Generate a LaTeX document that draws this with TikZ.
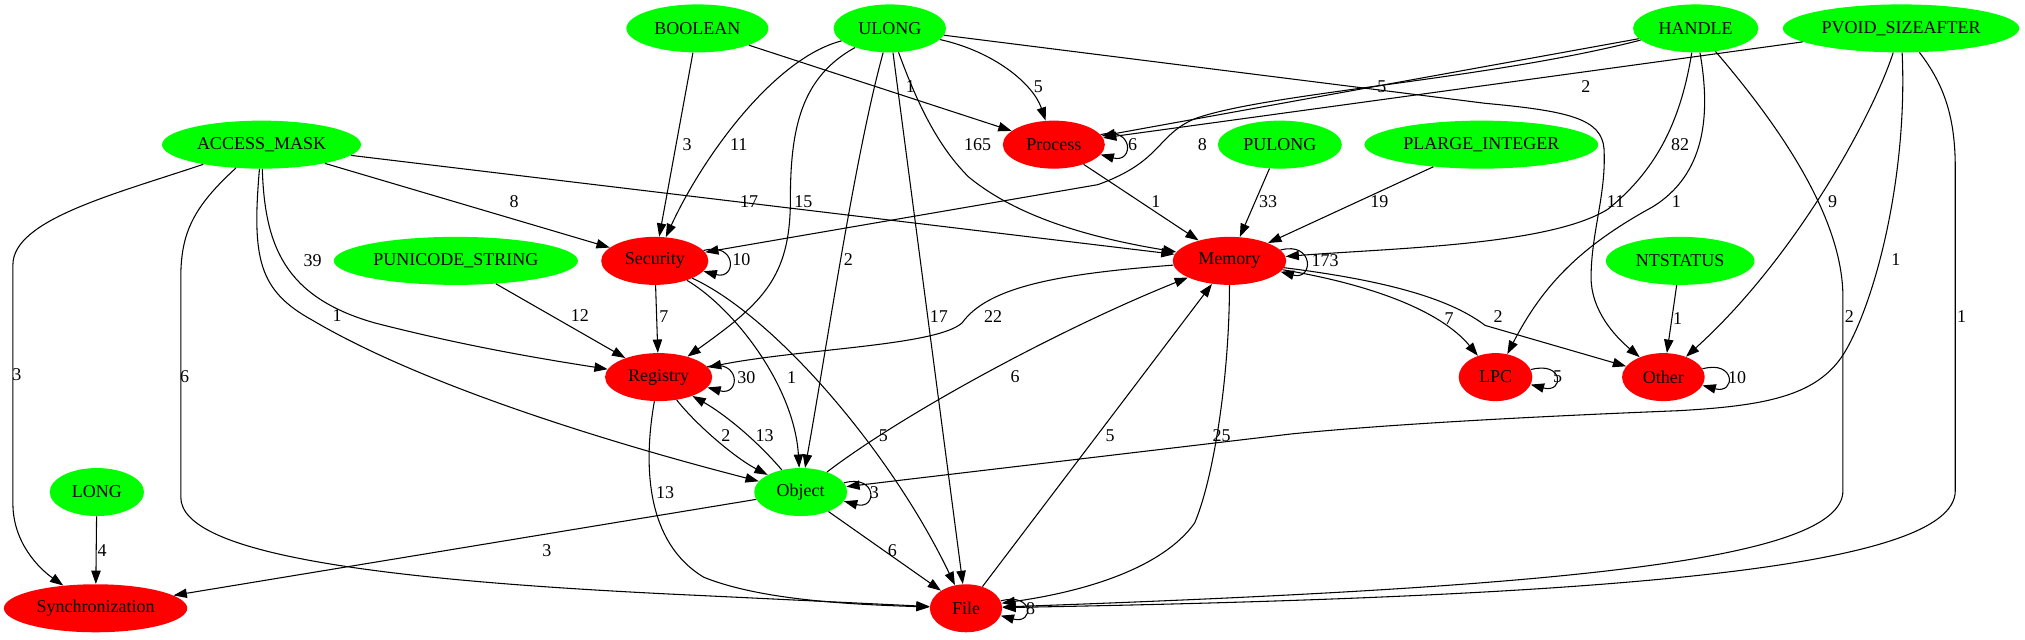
\documentclass[tikz,border=0pt]{standalone}
\usepackage{fontspec}
\setmainfont{Liberation Serif}
\usetikzlibrary{arrows.meta}
\usetikzlibrary{shapes.geometric}
\definecolor{typegreen}{RGB}{0,255,0}
\definecolor{catred}{RGB}{255,0,0}

\begin{document}
\begin{tikzpicture}[x=0.9686pt,y=0.9686pt,
	argtype/.style={ellipse,fill=typegreen,inner sep=1pt,minimum height=36pt,font=\fontsize{13.5}{16}\selectfont},
	category/.style={argtype,fill=catred},
	conn/.style={-{Triangle[length=10pt,width=7pt]},line width=0.8pt},
	num/.style={inner sep=0pt,font=\fontsize{13.5}{16}\selectfont},
	selfloop/.style={out=15,in=-15,distance=26pt}]
	\useasboundingbox (0,0) rectangle (1568,-495);
	
	\node[argtype,minimum width=106.5pt] (bool) at (540,-22) {BOOLEAN};
	\node[argtype,minimum width=84.3pt] (ulong) at (689,-22) {ULONG};
	\node[argtype,minimum width=94pt] (handle) at (1313,-22) {HANDLE};
	\node[argtype,minimum width=177.3pt] (pvoid) at (1472,-22) {PVOID\_SIZEAFTER};
	\node[argtype,minimum width=149.2pt] (acc) at (202.5,-112) {ACCESS\_MASK};
	\node[category,minimum width=76.5pt] (proc) at (816,-112) {Process};
	\node[argtype,minimum width=93pt] (pulong) at (991,-112) {PULONG};
	\node[argtype,minimum width=175.3pt] (plarge) at (1147,-112) {PLARGE\_INTEGER};
	\node[argtype,minimum width=183.1pt] (puni) at (353,-202) {PUNICODE\_STRING};
	\node[category,minimum width=80.4pt] (sec) at (507,-202) {Security};
	\node[category,minimum width=85.2pt] (mem) at (952,-202) {Memory};
	\node[argtype,minimum width=111.4pt] (nts) at (1301,-202) {NTSTATUS};
	\node[category,minimum width=80.4pt] (reg) at (510,-292) {Registry};
	\node[category,minimum width=55.2pt] (lpc) at (1158,-292) {LPC};
	\node[category,minimum width=62pt] (oth) at (1288,-292) {Other};
	\node[argtype,minimum width=70.7pt] (long) at (75,-381) {LONG};
	\node[argtype,minimum width=69.7pt] (obj) at (620,-381) {Object};
	\node[category,minimum width=137.5pt] (sync) at (74,-471) {Synchronization};
	\node[category,minimum width=54.2pt] (file) at (748,-471) {File};
	
	% ACCESS_MASK
	\draw[conn] (acc) .. controls (90,-150) and (10,-170) .. (10,-205) -- (10,-390) .. controls (10,-420) and (30,-440) .. (sync) node[num] at (13,-290) {3};
	\draw[conn] (acc) .. controls (150,-160) and (140,-180) .. (140,-215) -- (140,-385) .. controls (140,-430) and (300,-450) .. (540,-461) -- (file) node[num] at (143,-291.6) {6};
	\draw[conn] (acc) .. controls (195,-200) and (200,-225) .. (242,-248) .. controls (330,-300) and (480,-345) .. (obj) node[num] at (261,-244) {1};
	\draw[conn] (acc) .. controls (205,-190) and (220,-230) .. (290,-250) .. controls (360,-268) and (420,-278) .. (reg) node[num] at (242,-202) {39};
	\draw[conn] (acc) -- (sec) node[num] at (398,-156) {8};
	\draw[conn] (acc) -- (mem) node[num] at (580,-156) {17};
	
	% BOOLEAN
	\draw[conn] (bool) -- (sec) node[num] at (532,-112) {3};
	\draw[conn] (bool) -- (proc) node[num] at (705,-67) {1};
	
	% ULONG
	\draw[conn] (ulong) .. controls (600,-45) and (545,-120) .. (sec) node[num] at (572,-112) {11};
	\draw[conn] (ulong) .. controls (620,-60) and (612,-100) .. (612,-155) .. controls (612,-215) and (590,-235) .. (reg) node[num] at (622,-156) {15};
	\draw[conn] (ulong) .. controls (662,-120) and (640,-270) .. (obj) node[num] at (657,-201) {2};
	\draw[conn] (ulong) -- (file) node[num] at (727,-245) {17};
	\draw[conn] (ulong) .. controls (712,-85) and (728,-115) .. (750,-137) .. controls (790,-170) and (850,-185) .. (mem) node[num] at (757,-112) {165};
	\draw[conn] (ulong) .. controls (770,-40) and (800,-65) .. (proc) node[num] at (804,-67) {5};
	\draw[conn] (ulong) -- (1150,-80) .. controls (1215,-86) and (1240,-92) .. (1242,-115) .. controls (1244,-150) and (1232,-180) .. (1232,-215) .. controls (1232,-240) and (1250,-260) .. (oth) node[num] at (1251,-156) {11};
	
	% HANDLE
	\draw[conn] (handle) -- (proc) node[num] at (1070,-67) {5};
	\draw[conn] (handle.192) .. controls (1150,-62) and (980,-72) .. (925,-92) .. controls (895,-105) and (900,-125) .. (850,-143) -- (sec) node[num] at (931,-112) {8};
	\draw[conn] (handle) .. controls (1302,-90) and (1285,-130) .. (1245,-162) .. controls (1200,-190) and (1080,-192) .. (mem) node[num] at (1301,-112) {82};
	\draw[conn] (handle) .. controls (1325,-90) and (1320,-135) .. (1280,-160) .. controls (1225,-190) and (1195,-220) .. (lpc) node[num] at (1298,-156) {1};
	\draw[conn] (handle) .. controls (1380,-100) and (1427,-170) .. (1427,-230) -- (1427,-380) .. controls (1427,-435) and (1200,-455) .. (file) node[num] at (1432,-245) {2};
	
	% PVOID_SIZEAFTER
	\draw[conn] (pvoid) -- (proc) node[num] at (1228,-67) {2};
	\draw[conn] (pvoid) .. controls (1450,-90) and (1390,-200) .. (oth) node[num] at (1419,-156) {9};
	\draw[conn] (pvoid) .. controls (1477,-130) and (1455,-225) .. (1430,-270) .. controls (1410,-306) and (1370,-314) .. (1300,-318) .. controls (1200,-322) and (1080,-328) .. (1000,-336) -- (obj) node[num] at (1468,-201) {1};
	\draw[conn] (pvoid) .. controls (1505,-65) and (1514,-90) .. (1514,-130) -- (1514,-380) .. controls (1514,-440) and (1250,-462) .. (file) node[num] at (1519,-245) {1};
	
	\draw[conn] (pulong) -- (mem) node[num] at (982,-156) {33};
	\draw[conn] (plarge) -- (mem) node[num] at (1068,-156) {19};
	\draw[conn] (nts) -- (oth) node[num] at (1299,-247) {1};
	\draw[conn] (puni) -- (reg) node[num] at (449,-244) {12};
	\draw[conn] (long) -- (sync) node[num] at (79,-426) {4};
	
	% Process
	\draw[conn] (proc.12) to[selfloop] (proc.-12) node[num] at (877,-112) {6};
	\draw[conn] (proc) -- (mem) node[num] at (895,-156) {1};
	
	% Security
	\draw[conn] (sec.12) to[selfloop] (sec.-12) node[num] at (574,-201) {10};
	\draw[conn] (sec) -- (reg) node[num] at (514,-245) {7};
	\draw[conn] (sec) .. controls (570,-240) and (615,-300) .. (obj) node[num] at (613,-292) {1};
	\draw[conn] (sec) .. controls (600,-245) and (690,-350) .. (file) node[num] at (684,-337) {5};
	
	% Memory
	\draw[conn] (mem.12) to[selfloop] (mem.-12) node[num] at (1026,-201.5) {173};
	\draw[conn] (mem) .. controls (820,-212) and (765,-222) .. (745,-250) .. controls (725,-268) and (620,-270) .. (reg) node[num] at (769,-245) {22};
	\draw[conn] (mem) .. controls (1060,-220) and (1115,-240) .. (lpc) node[num] at (1122,-247) {7};
	\draw[conn] (mem) .. controls (1080,-218) and (1125,-233) .. (1150,-252) -- (oth) node[num] at (1160,-245) {2};
	\draw[conn] (mem) .. controls (952,-290) and (940,-370) .. (925,-405) .. controls (900,-440) and (840,-458) .. (file) node[num] at (946,-337) {25};
	
	% Registry
	\draw[conn] (reg.12) to[selfloop] (reg.-12) node[num] at (578,-292) {30};
	\draw[conn] (reg) .. controls (540,-330) and (570,-355) .. (obj) node[num] at (562,-337) {2};
	\draw[conn] (obj) .. controls (585,-340) and (560,-320) .. (reg) node[num] at (592,-337) {13};
	\draw[conn] (reg) .. controls (498,-360) and (500,-420) .. (545,-447) .. controls (590,-465) and (660,-468) .. (file) node[num] at (515,-381.5) {13};
	
	% Object
	\draw[conn] (obj.12) to[selfloop] (obj.-12) node[num] at (677,-381.5) {3};
	\draw[conn] (obj) .. controls (700,-320) and (820,-255) .. (mem) node[num] at (786,-292) {6};
	\draw[conn] (obj) -- (file) node[num] at (691,-426) {6};
	\draw[conn] (obj) -- (sync) node[num] at (423.5,-426) {3};
	
	% File, LPC, Other
	\draw[conn] (file.12) to[selfloop] (file.-12) node[num] at (798,-471) {8};
	\draw[conn] (file) -- (mem) node[num] at (859.5,-337) {5};
	\draw[conn] (lpc.12) to[selfloop] (lpc.-12) node[num] at (1206,-292) {5};
	\draw[conn] (oth.12) to[selfloop] (oth.-12) node[num] at (1345,-292) {10};
\end{tikzpicture}
\end{document}
